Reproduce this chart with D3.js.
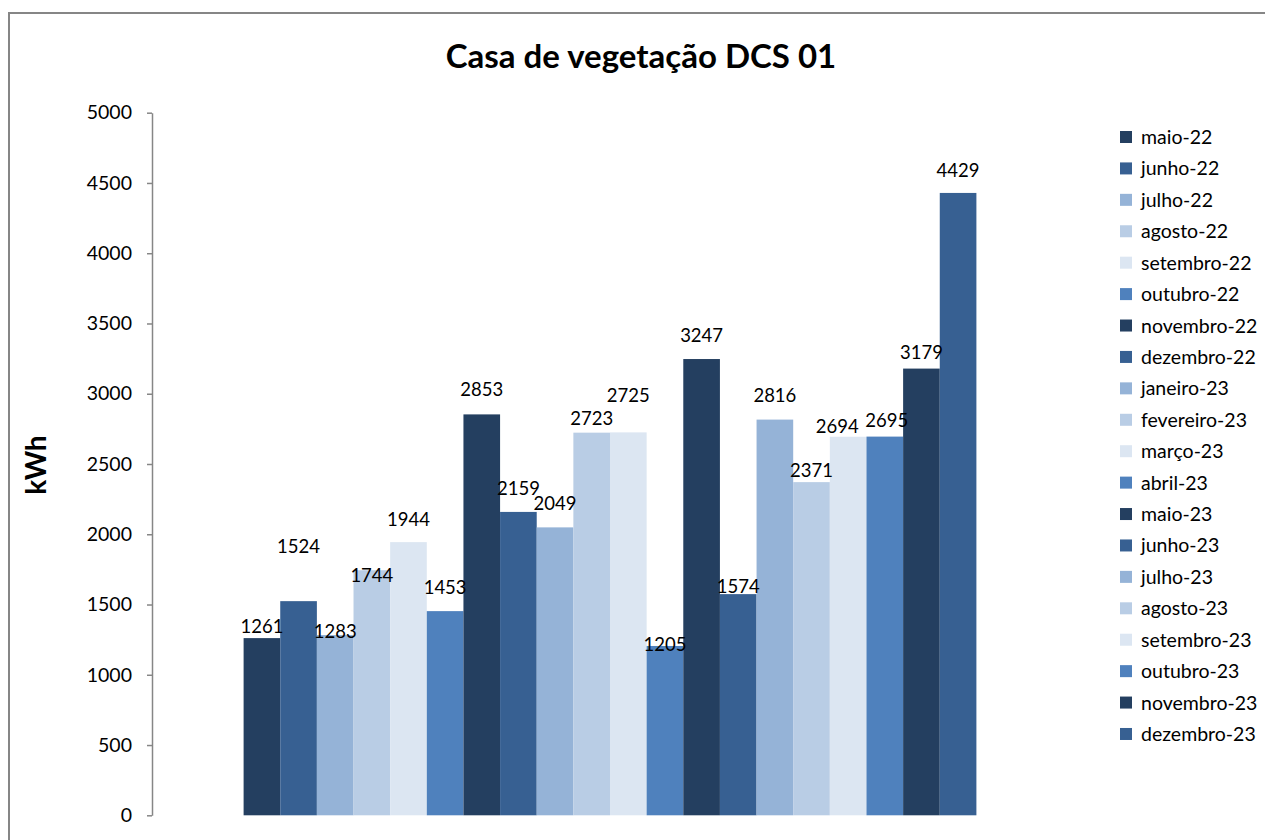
<!DOCTYPE html>
<html>
<head>
<meta charset="utf-8">
<script src="https://cdn.jsdelivr.net/npm/d3@7"></script>
<style>
  html, body { margin: 0; padding: 0; background: #fff; }
  svg { display: block; }
  text { font-family: Lato, "Open Sans", sans-serif; fill: #000; }
</style>
</head>
<body>
<svg id="chart" width="1265" height="840"></svg>
<script>
// ---- data ----
const months = ["maio-22","junho-22","julho-22","agosto-22","setembro-22","outubro-22",
  "novembro-22","dezembro-22","janeiro-23","fevereiro-23","março-23","abril-23",
  "maio-23","junho-23","julho-23","agosto-23","setembro-23","outubro-23","novembro-23","dezembro-23"];
const values = [1261,1524,1283,1744,1944,1453,2853,2159,2049,2723,2725,1205,3247,1574,2816,2371,2694,2695,3179,4429];
const yTicks = [0,500,1000,1500,2000,2500,3000,3500,4000,4500,5000];
const title = "Casa de vegetação DCS 01";
const yLabel = "kWh";

// ---- layout / style ----
const palette = ["#243F60","#376092","#95B3D7","#B9CDE5","#DCE6F2","#4F81BD"];
const labelLift = [12,55,4,-5,23,24,25,24,24,14,37,2,24,8,24,12,10,16,16,23];
const labelShift = [0,0,0,0,0,0,0,0,0,0,0,0,0,0,0,0,-11,2,0,0];

const svg = d3.select("#chart");
const W = 1265, H = 840;
const plot = { left: 152, right: 1068, top: 112.7, bottom: 815.3 };

// chart border
svg.append("rect")
  .attr("x", 9).attr("y", 13).attr("width", W + 20).attr("height", H + 20)
  .attr("fill", "#fff").attr("stroke", "#868686").attr("stroke-width", 2);

const x = d3.scaleBand().domain(months).range([plot.left, plot.right])
  .paddingInner(0).paddingOuter(2.5);
const y = d3.scaleLinear().domain([0, 5000]).range([plot.bottom, plot.top]);
const color = d3.scaleOrdinal().domain(months).range(palette);

// title
svg.append("text")
  .attr("x", 641).attr("y", 68)
  .attr("text-anchor", "middle")
  .style("font-size", "33px").style("font-weight", "bold")
  .text(title);

// y axis
const yAxis = d3.axisLeft(y).tickValues(yTicks).tickFormat(d3.format("d"))
  .tickSize(5).tickSizeOuter(0).tickPadding(15);
const gy = svg.append("g").attr("transform", `translate(${plot.left},0)`).call(yAxis);
gy.select(".domain").attr("stroke", "#868686").attr("stroke-width", 1.5);
gy.selectAll(".tick line").attr("stroke", "#868686").attr("stroke-width", 1.5);
gy.selectAll(".tick text").style("font-size", "19.5px").style("font-family", "Lato, 'Open Sans', sans-serif").attr("fill", "#000");

// y label
svg.append("text")
  .attr("transform", "translate(46,465) rotate(-90)")
  .attr("text-anchor", "middle")
  .style("font-size", "28px").style("font-weight", "bold")
  .text(yLabel);

// bars
svg.append("g").selectAll("rect").data(values).join("rect")
  .attr("x", (d, i) => x(months[i]))
  .attr("y", d => y(d))
  .attr("width", x.bandwidth())
  .attr("height", d => y(0) - y(d))
  .attr("fill", (d, i) => color(months[i]));

// value labels
svg.append("g").selectAll("text").data(values).join("text")
  .attr("x", (d, i) => x(months[i]) + x.bandwidth() / 2 + labelShift[i])
  .attr("y", (d, i) => y(d) - labelLift[i])
  .attr("dy", "0.36em")
  .attr("text-anchor", "middle")
  .style("font-size", "18.5px")
  .text(d => d);

// legend
const legend = svg.append("g");
const rowH = 31.42, ly0 = 137;
months.forEach((m, i) => {
  const g = legend.append("g").attr("transform", `translate(1120,${ly0 + i * rowH})`);
  g.append("rect").attr("x", 0).attr("y", -6).attr("width", 12).attr("height", 12).attr("fill", color(m));
  g.append("text").attr("x", 21).attr("y", 0).attr("dy", "0.36em").style("font-size", "19.5px").text(m);
});
</script>
</body>
</html>
